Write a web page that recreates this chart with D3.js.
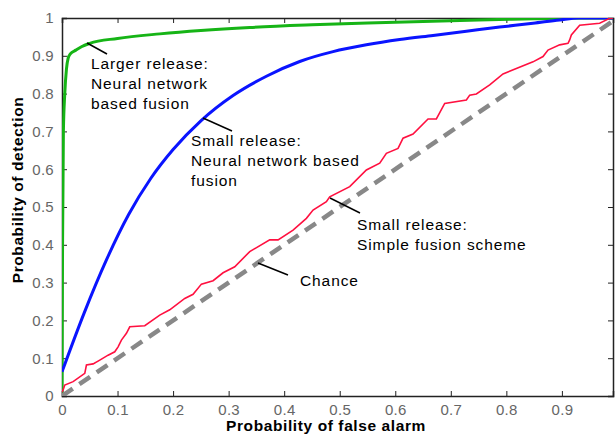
<!DOCTYPE html>
<html>
<head>
<meta charset="utf-8">
<script src="https://cdn.jsdelivr.net/npm/d3@7"></script>
<style>
  body { margin: 0; background: #fff; }
  svg { display: block; font-family: Arial, "Liberation Sans", sans-serif; }
</style>
</head>
<body>
<div id="chart"></div>
<script>
// ROC curves: [false alarm, detection]
const largeNN = [[0,0],[0.001,0.4],[0.0025,0.7],[0.005,0.8],[0.008,0.865],[0.011,0.893],[0.015,0.905],[0.025,0.915],[0.035,0.924],[0.05,0.933],[0.1,0.946],[0.176,0.958],[0.25,0.967],[0.338,0.975],[0.45,0.982],[0.55,0.987],[0.65,0.991],[0.75,0.995],[0.85,0.998],[0.92,1],[0.992,1]];
const smallNN = [[0,0.064],[0.04,0.22],[0.08,0.36],[0.12,0.48],[0.16,0.576],[0.2,0.652],[0.25,0.728],[0.308,0.795],[0.368,0.846],[0.428,0.885],[0.488,0.911],[0.548,0.929],[0.608,0.943],[0.668,0.954],[0.728,0.965],[0.788,0.976],[0.848,0.986],[0.896,0.995],[0.93,1],[0.992,1]];
const smallSimple = [[0,0.01],[0.002,0.016],[0.005,0.029],[0.02,0.038],[0.041,0.06],[0.044,0.082],[0.056,0.085],[0.068,0.095],[0.083,0.108],[0.095,0.117],[0.101,0.13],[0.107,0.148],[0.116,0.166],[0.122,0.183],[0.149,0.186],[0.176,0.214],[0.194,0.228],[0.221,0.258],[0.236,0.269],[0.251,0.296],[0.272,0.305],[0.29,0.326],[0.311,0.342],[0.338,0.382],[0.374,0.413],[0.389,0.413],[0.416,0.439],[0.44,0.47],[0.452,0.492],[0.476,0.514],[0.482,0.527],[0.518,0.554],[0.548,0.598],[0.572,0.616],[0.584,0.642],[0.605,0.655],[0.614,0.682],[0.632,0.693],[0.659,0.733],[0.674,0.733],[0.689,0.774],[0.728,0.783],[0.734,0.796],[0.746,0.799],[0.77,0.823],[0.794,0.852],[0.848,0.884],[0.866,0.898],[0.875,0.915],[0.896,0.929],[0.911,0.933],[0.914,0.942],[0.917,0.955],[0.932,0.981],[0.968,0.986],[0.986,0.999],[0.992,1]];
const chance = [[0,0],[1,1]];

const xTicks = [0,0.1,0.2,0.3,0.4,0.5,0.6,0.7,0.8,0.9];
const yTicks = [0,0.1,0.2,0.3,0.4,0.5,0.6,0.7,0.8,0.9,1];

const notes = [
  { lines: ["Larger release:", "Neural network", "based fusion"], at: [91, 69], from: [87, 43], to: [107, 54] },
  { lines: ["Small release:", "Neural network based", "fusion"], at: [191, 146], from: [203, 118], to: [232, 131] },
  { lines: ["Small release:", "Simple fusion scheme"], at: [357, 230], from: [330, 198], to: [360, 213] },
  { lines: ["Chance"], at: [300, 286], from: [258, 263], to: [288, 275] }
];

const W = 616, H = 434;
const margin = { top: 18, right: 3, bottom: 38, left: 62 };
const width = W - margin.left - margin.right;
const height = H - margin.top - margin.bottom;

const svg = d3.select("#chart").append("svg")
  .attr("width", W)
  .attr("height", H);

const g = svg.append("g")
  .attr("transform", `translate(${margin.left},${margin.top})`);

const x = d3.scaleLinear().domain([0, 0.992]).range([0, width]);
const y = d3.scaleLinear().domain([0, 1]).range([height, 0]);

// axes, ticks pointing inwards like matlab
const tickLen = 5;
const axisColor = "#222";
const labelColor = "#666";

const xAxis = g.append("g")
  .attr("transform", `translate(0,${height})`)
  .call(d3.axisBottom(x).tickValues(xTicks).tickSize(-tickLen).tickPadding(8).tickFormat(d3.format("")));
const xAxisTop = g.append("g")
  .call(d3.axisTop(x).tickValues(xTicks).tickSize(-tickLen).tickFormat(""));
const yAxis = g.append("g")
  .call(d3.axisLeft(y).tickValues(yTicks).tickSize(-tickLen).tickPadding(8).tickFormat(d3.format("")));
const yAxisRight = g.append("g")
  .attr("transform", `translate(${width},0)`)
  .call(d3.axisRight(y).tickValues(yTicks).tickSize(-tickLen).tickFormat(""));

[xAxis, xAxisTop, yAxis, yAxisRight].forEach(a => {
  a.select(".domain").attr("stroke", axisColor).attr("stroke-width", 1.5);
  a.selectAll(".tick line").attr("stroke", axisColor);
  a.selectAll("text")
    .attr("fill", labelColor)
    .style("font-size", "15px")
    .style("letter-spacing", "0.3px")
    .style("font-family", "Arial, 'Liberation Sans', sans-serif");
});

g.append("defs").append("clipPath").attr("id", "clip")
  .append("rect").attr("width", width).attr("height", height);

const line = d3.line()
  .x(d => x(d[0]))
  .y(d => y(d[1]));

const smooth = d3.line()
  .x(d => x(d[0]))
  .y(d => y(d[1]))
  .curve(d3.curveMonotoneX);

const plot = g.append("g").attr("clip-path", "url(#clip)");

plot.append("path").datum(largeNN)
  .attr("d", smooth)
  .attr("fill", "none")
  .attr("stroke", "#16b416")
  .attr("stroke-width", 3);

plot.append("path").datum(smallNN)
  .attr("d", smooth)
  .attr("fill", "none")
  .attr("stroke", "#0a14ff")
  .attr("stroke-width", 3);

plot.append("path").datum(smallSimple)
  .attr("d", line)
  .attr("fill", "none")
  .attr("stroke", "#ff1040")
  .attr("stroke-width", 1.6);

plot.append("path").datum(chance)
  .attr("d", line)
  .attr("fill", "none")
  .attr("stroke", "#888")
  .attr("stroke-width", 4.5)
  .attr("stroke-dasharray", "13,8");

// annotations
notes.forEach(n => {
  svg.append("line")
    .attr("x1", n.from[0]).attr("y1", n.from[1])
    .attr("x2", n.to[0]).attr("y2", n.to[1])
    .attr("stroke", "#000")
    .attr("stroke-width", 1.5);
  const t = svg.append("text")
    .attr("x", n.at[0])
    .attr("y", n.at[1])
    .attr("fill", "#000")
    .style("font-size", "15.5px")
    .style("letter-spacing", "0.9px");
  n.lines.forEach((s, i) => {
    t.append("tspan")
      .attr("x", n.at[0])
      .attr("dy", i === 0 ? 0 : 20)
      .text(s);
  });
});

// axis titles
svg.append("text")
  .attr("x", 326)
  .attr("y", 431)
  .attr("text-anchor", "middle")
  .style("font-size", "15.5px")
  .style("font-weight", "bold")
  .style("letter-spacing", "0.6px")
  .text("Probability of false alarm");

svg.append("text")
  .attr("transform", `translate(23,190) rotate(-90)`)
  .attr("text-anchor", "middle")
  .style("font-size", "15.5px")
  .style("font-weight", "bold")
  .style("letter-spacing", "0.6px")
  .text("Probability of detection");
</script>
</body>
</html>
